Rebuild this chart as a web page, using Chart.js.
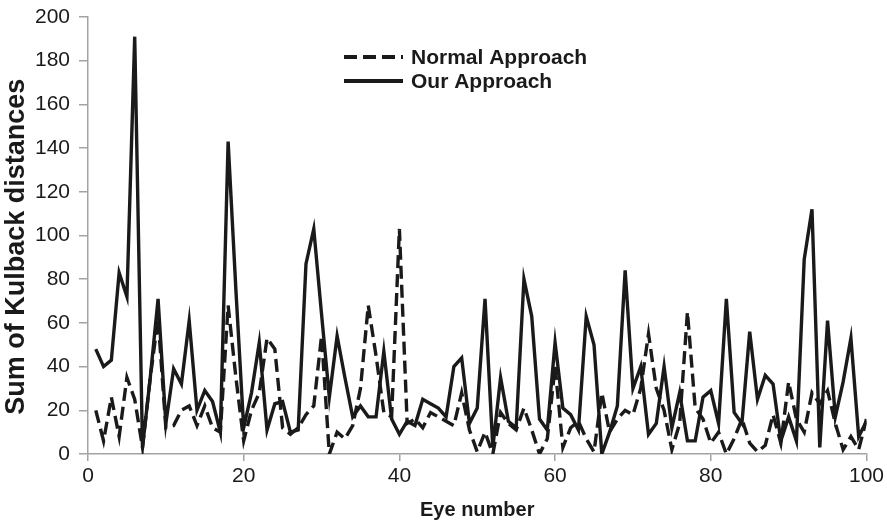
<!DOCTYPE html>
<html lang="en">
    <head>
        <meta charset="UTF-8" />
        <title>Sum of Kulback distances per eye</title>
        <script src="https://cdn.jsdelivr.net/npm/chart.js@4.4.1/dist/chart.umd.min.js"></script>
        <style>
            body {
                margin: 0;
                background: #fff;
            }
            div.main {
                position: relative;
                width: 887px;
                height: 522px;
            }
        </style>
    </head>

    <body>
        <div class="main">
            <canvas id="myChart"></canvas>
        </div>

        <script>
            // eye index 1..100
            const eyeNumbers = Array.from({ length: 100 }, (_, i) => i + 1);

            const normalApproach = [
                20, 6, 26, 8, 35, 25, 3, 35, 62, 12,
                13, 20, 22, 13, 22, 12, 10, 68, 35, 6,
                20, 28, 53, 48, 12, 9, 12, 18, 22, 54,
                0, 10, 7, 13, 30, 68, 45, 19, 17, 103,
                14, 16, 12, 19, 17, 15, 13, 28, 11, 1,
                10, 0, 19, 14, 11, 21, 11, 0, 7, 40,
                3, 12, 15, 7, 1, 28, 10, 16, 20, 18,
                30, 55, 30, 20, 2, 14, 65, 21, 16, 5,
                10, 0, 7, 16, 5, 1, 4, 18, 5, 33,
                16, 10, 28, 23, 29, 14, 2, 8, 2, 16,
            ];

            const ourApproach = [
                48, 40, 43, 83, 72, 191, 3, 35, 71, 14,
                39, 32, 61, 20, 29, 24, 10, 143, 75, 12,
                28, 51, 11, 23, 24, 10, 11, 87, 103, 64,
                26, 54, 35, 17, 22, 17, 17, 47, 16, 9,
                15, 13, 25, 23, 21, 17, 40, 44, 14, 21,
                71, 3, 35, 15, 12, 80, 63, 16, 11, 51,
                21, 18, 11, 63, 50, 0, 10, 22, 84, 30,
                40, 9, 14, 40, 12, 28, 6, 6, 26, 29,
                14, 71, 19, 14, 56, 25, 36, 32, 6, 17,
                6, 89, 112, 3, 61, 17, 33, 53, 8, 15,
            ];

            const xTicks = [0, 20, 40, 60, 80, 100];
            const yTicks = [0, 20, 40, 60, 80, 100, 120, 140, 160, 180, 200];

            const FONT = "'Liberation Sans', Arial, sans-serif";
            const INK = "#1a1a1a";
            const AXIS = "#a3a3a3";

            function toPoints(values) {
                return values.map((v, i) => ({ x: eyeNumbers[i], y: v }));
            }

            // legend drawn inside the plot, two rows stacked
            const innerLegend = {
                id: "innerLegend",
                afterDraw(chart) {
                    const { ctx, chartArea } = chart;
                    const x0 = chartArea.left + 256;
                    const y0 = chartArea.top + 40;
                    ctx.save();
                    ctx.font = "bold 21px " + FONT;
                    ctx.textBaseline = "middle";
                    chart.data.datasets.forEach((ds, i) => {
                        const y = y0 + i * 24;
                        ctx.strokeStyle = ds.borderColor;
                        ctx.lineWidth = 4;
                        ctx.setLineDash(ds.borderDash || []);
                        ctx.beginPath();
                        ctx.moveTo(x0, y);
                        ctx.lineTo(x0 + 59, y);
                        ctx.stroke();
                        ctx.setLineDash([]);
                        ctx.fillStyle = INK;
                        ctx.fillText(ds.label, x0 + 67, y + 1);
                    });
                    ctx.restore();
                },
            };

            const ctx = document.getElementById("myChart").getContext("2d");
            const myChart = new Chart(ctx, {
                type: "line",
                data: {
                    datasets: [
                        {
                            label: "Normal Approach",
                            data: toPoints(normalApproach),
                            borderColor: INK,
                            borderWidth: 3.4,
                            borderDash: [13, 6],
                            pointRadius: 0,
                            tension: 0,
                            fill: false,
                        },
                        {
                            label: "Our Approach",
                            data: toPoints(ourApproach),
                            borderColor: INK,
                            borderWidth: 3.4,
                            pointRadius: 0,
                            tension: 0,
                            fill: false,
                        },
                    ],
                },
                options: {
                    responsive: true,
                    maintainAspectRatio: false,
                    animation: false,
                    layout: {
                        padding: { top: 17, right: 18, left: 0, bottom: 0 },
                    },
                    plugins: {
                        legend: { display: false },
                        tooltip: { enabled: false },
                    },
                    scales: {
                        x: {
                            type: "linear",
                            min: 0,
                            max: 100,
                            afterBuildTicks: (scale) => {
                                scale.ticks = xTicks.map((v) => ({ value: v }));
                            },
                            afterFit: (scale) => {
                                scale.height = 68;
                            },
                            grid: {
                                drawOnChartArea: false,
                                drawTicks: true,
                                tickLength: 7,
                                color: AXIS,
                                lineWidth: 1.5,
                            },
                            border: { color: AXIS, width: 1.5 },
                            ticks: {
                                padding: 3,
                                color: INK,
                                font: { family: FONT, size: 21 },
                                maxRotation: 0,
                            },
                            title: {
                                display: true,
                                text: "Eye number",
                                color: INK,
                                font: { family: FONT, size: 20, weight: "bold" },
                                padding: { top: 0, bottom: 0 },
                            },
                        },
                        y: {
                            min: 0,
                            max: 200,
                            afterBuildTicks: (scale) => {
                                scale.ticks = yTicks.map((v) => ({ value: v }));
                            },
                            afterFit: (scale) => {
                                scale.width = 88;
                                // let the layout padding alone decide the top edge
                                scale.paddingTop = 0;
                                scale.paddingBottom = 0;
                            },
                            grid: {
                                drawOnChartArea: false,
                                drawTicks: true,
                                tickLength: 9,
                                color: AXIS,
                                lineWidth: 1.5,
                            },
                            border: { color: AXIS, width: 1.5 },
                            ticks: {
                                padding: 9,
                                color: INK,
                                font: { family: FONT, size: 21 },
                            },
                            title: {
                                display: true,
                                // trailing spaces nudge the rotated title a little lower
                                text: "Sum of Kulback distances   ",
                                color: INK,
                                font: { family: FONT, size: 27, weight: "bold" },
                                padding: { top: 0, bottom: 0 },
                            },
                        },
                    },
                },
                plugins: [innerLegend],
            });
        </script>
    </body>
</html>
